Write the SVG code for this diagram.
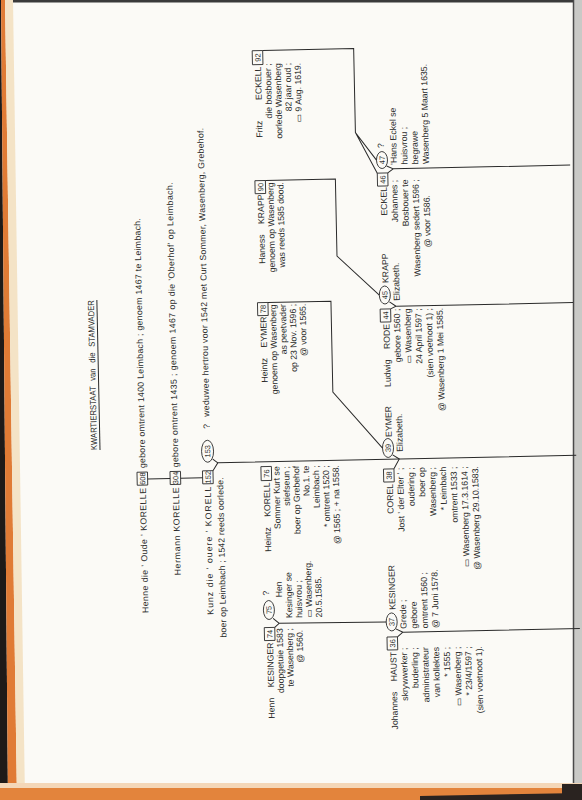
<svg xmlns="http://www.w3.org/2000/svg" width="582" height="800" viewBox="0 0 582 800">
<style>
text{font-family:"Liberation Sans","DejaVu Sans",Arial,sans-serif;font-size:8.7px;fill:#2a2a2a}
.n{word-spacing:8px}
.e{text-anchor:end}
.m{text-anchor:middle;font-size:7.5px}
.b{fill:none;stroke:#2a2a2a;stroke-width:0.9}
.c{fill:none;stroke:#2a2a2a;stroke-width:1}
</style>
<rect width="582" height="800" fill="#fbfaf6"/>
<g id="page-edges">
<polygon points="0,0 1,0 8,800 0,800" fill="#1e1a18"/>
<polygon points="1,0 5,0 17,800 8,800" fill="#e07b35"/>
<polygon points="5,0 13,0 25,800 17,800" fill="#f4e3c6"/>
<rect x="13" y="0" width="569" height="2.5" fill="#3a3a3a"/>
<rect x="574" y="0" width="8" height="800" fill="#c9c9c6"/>
<line x1="573.5" y1="0" x2="573.5" y2="800" stroke="#4a4a4a" stroke-width="1.5"/>
<rect x="0" y="783" width="582" height="5" fill="#f4d7b8"/>
<rect x="0" y="788" width="582" height="12" fill="#e3843c"/>
<polygon points="420,796 582,793 582,800 420,800" fill="#2a2320"/>
<rect x="562" y="784" width="20" height="16" fill="#2a2320"/>
</g>
<g transform="rotate(-1.2 291 400) translate(0 800) rotate(-90)">
<g id="title">
<text x="429" y="96" text-anchor="middle" textLength="150" lengthAdjust="spacingAndGlyphs" style="word-spacing:4px">KWARTIERSTAAT van die STAMVADER</text>
<line x1="354" y1="99" x2="504" y2="99" class="c"/>
</g>
<g id="n608">
<text x="315" y="144" class="e" textLength="125" lengthAdjust="spacing">Henne die ' Oude ' KORELLE</text>
<rect x="318" y="135.5" width="13" height="10.5" class="b"/>
<text x="324.5" y="143.6" class="m">608</text>
<text x="335" y="144" textLength="250" lengthAdjust="spacing">gebore omtrent 1400 Leimbach ; genoem 1467 te Leimbach.</text>
</g>
<g id="n304">
<text x="315" y="177" class="e" textLength="88" lengthAdjust="spacing">Hermann KORELLE</text>
<rect x="318" y="168.5" width="13" height="10.5" class="b"/>
<text x="324.5" y="176.6" class="m">304</text>
<text x="335" y="177" textLength="285" lengthAdjust="spacing">gebore omtrent 1435 ; genoem 1467 op die 'Oberhof' op Leimbach.</text>
</g>
<g id="n152">
<text x="315" y="209" class="e" textLength="128" lengthAdjust="spacing">Kunz die ' ouere ' KORELL</text>
<rect x="318" y="201" width="13" height="10.5" class="b"/>
<text x="324.5" y="209.1" class="m">152</text>
<text x="164" y="221.5" textLength="160" lengthAdjust="spacing">boer op Leimbach ; 1542 reeds oorlede.</text>
</g>
<g id="n153">
<ellipse cx="350.5" cy="206.5" rx="11" ry="6" class="b"/>
<text x="350.5" y="209.2" class="m">153</text>
<text x="373" y="209">?</text>
<text x="385" y="209" textLength="289" lengthAdjust="spacing">weduwee hertrou voor 1542 met Curt Sommer, Wasenberg, Grebehof.</text>
</g>
<g id="n74">
<text x="158" y="268" class="e n">Henn KESINGER</text>
<rect x="160" y="259.5" width="13" height="10.5" class="b"/>
<text x="166.5" y="267.6" class="m">74</text>
<text x="172" y="277.9" class="e">doopgetuie 1583</text>
<text x="172" y="287.8" class="e">te Wasenberg ;</text>
<text x="170" y="297.7" class="e">@ 1560.</text>
</g>
<g id="n75">
<ellipse cx="190.5" cy="264.5" rx="9.5" ry="5.5" class="b"/>
<text x="190.5" y="267.2" class="m">75</text>
<text x="205" y="265">?</text>
<text x="203" y="277.9">Hen</text>
<text x="182" y="287.8">Kesinger se</text>
<text x="182" y="297.7">huisvrou ;</text>
<text x="182" y="307.6">▭ Wasenberg.</text>
<text x="182" y="317.5">20.5.1585.</text>
</g>
<g id="n76">
<text x="318" y="268" class="e n">Heintz KORELL</text>
<rect x="320" y="259.5" width="14" height="10.5" class="b"/>
<text x="327" y="267.6" class="m">76</text>
<text x="334" y="277.9" class="e">Sommer Kurt se</text>
<text x="334" y="287.8" class="e">stiefseun ;</text>
<text x="334" y="297.7" class="e">boer op Grebehof</text>
<text x="334" y="307.6" class="e">No.1. te</text>
<text x="334" y="317.5" class="e">Leimbach ;</text>
<text x="334" y="327.4" class="e">* omtrent 1520 ;</text>
<text x="334" y="337.3" class="e">@ 1565 ; + na 1558.</text>
</g>
<g id="n78">
<text x="484" y="268" class="e n">Heintz EYMER</text>
<rect x="485" y="259.5" width="13" height="10.5" class="b"/>
<text x="491.5" y="267.6" class="m">78</text>
<text x="496" y="277.9" class="e">genoem op Wasenberg</text>
<text x="496" y="287.8" class="e">as peetvader</text>
<text x="496" y="297.7" class="e">op 23 Nov. 1596 ;</text>
<text x="496" y="307.6" class="e">@ voor 1565.</text>
</g>
<g id="n90">
<text x="606" y="268" class="e n">Haness KRAPP</text>
<rect x="607" y="259.5" width="13" height="10.5" class="b"/>
<text x="613.5" y="267.6" class="m">90</text>
<text x="618" y="277.9" class="e">genoem op Wasenberg</text>
<text x="618" y="287.8" class="e">was reeds 1585 dood.</text>
</g>
<g id="n92">
<text x="663" y="268">Fritz</text>
<text x="734" y="268" class="e">ECKELL</text>
<rect x="736" y="259.5" width="14" height="10.5" class="b"/>
<text x="743" y="267.6" class="m">92</text>
<text x="737" y="277.9" class="e">die bosbouer ;</text>
<text x="737" y="287.8" class="e">oorlede Wasenberg</text>
<text x="737" y="297.7" class="e">82 jaar oud ;</text>
<text x="737" y="307.6" class="e">▭ 9 Aug. 1619.</text>
</g>
<g id="n36">
<text x="146" y="391" class="e n">Johannes HAUST</text>
<rect x="148" y="382" width="13" height="10.5" class="b"/>
<text x="154.5" y="390.1" class="m">36</text>
<text x="150" y="401.7" class="e">skrywwerker ;</text>
<text x="150" y="412.4" class="e">buderling ;</text>
<text x="150" y="423.1" class="e">administrateur</text>
<text x="150" y="433.8" class="e">van kollektes</text>
<text x="150" y="444.5" class="e">* 1555 ;</text>
<text x="150" y="455.2" class="e">▭ Wasenberg ;</text>
<text x="150" y="465.9" class="e">* 23/4/1597 ;</text>
<text x="150" y="476.6" class="e">(sien voetnoot 1).</text>
</g>
<g id="n37">
<ellipse cx="176" cy="387" rx="9" ry="5.5" class="b"/>
<text x="176" y="389.7" class="m">37</text>
<text x="188" y="391">KESINGER</text>
<text x="169" y="401.7">Grede ;</text>
<text x="169" y="412.4">gebore</text>
<text x="169" y="423.1">omtrent 1560 ;</text>
<text x="169" y="433.8">@ 7 Juni 1578.</text>
</g>
<g id="n38">
<text x="314" y="391" class="e">COREL</text>
<rect x="316" y="382" width="13" height="10.5" class="b"/>
<text x="322.5" y="390.1" class="m">38</text>
<text x="330" y="401.7" class="e">Jost ' der Elter ' ;</text>
<text x="330" y="412.4" class="e">oudering ;</text>
<text x="330" y="423.1" class="e">boer op</text>
<text x="330" y="433.8" class="e">Wasenberg ;</text>
<text x="330" y="444.5" class="e">* Leimbach</text>
<text x="330" y="455.2" class="e">omtrent 1533 ;</text>
<text x="330" y="465.9" class="e">▭ Wasenberg 17.3.1614 ;</text>
<text x="330" y="476.6" class="e">@ Wasenberg 29.10.1583.</text>
</g>
<g id="n39">
<ellipse cx="350" cy="387" rx="9.5" ry="5.5" class="b"/>
<text x="350" y="389.7" class="m">39</text>
<text x="361" y="391">EYMER</text>
<text x="346" y="401.7">Elizabeth.</text>
</g>
<g id="n44">
<text x="474" y="391" class="e n">Ludwig RODE</text>
<rect x="476" y="382" width="13" height="10.5" class="b"/>
<text x="482.5" y="390.1" class="m">44</text>
<text x="489" y="401.7" class="e">gebore 1560 ;</text>
<text x="489" y="412.4" class="e">▭ Wasenberg</text>
<text x="489" y="423.1" class="e">24 April 1597 ;</text>
<text x="489" y="433.8" class="e">(sien voetnoot 1) ;</text>
<text x="489" y="444.5" class="e">@ Wasenberg 1 Mei 1585.</text>
</g>
<g id="n45">
<ellipse cx="503" cy="387" rx="9" ry="5.5" class="b"/>
<text x="503" y="389.7" class="m">45</text>
<text x="515" y="391">KRAPP</text>
<text x="497" y="401.7">Elizabeth.</text>
</g>
<g id="n46">
<text x="611" y="391" class="e">ECKEL</text>
<rect x="612" y="382" width="13" height="10.5" class="b"/>
<text x="618.5" y="390.1" class="m">46</text>
<text x="618" y="401.7" class="e">Johannes ;</text>
<text x="618" y="412.4" class="e">Bosbouer te</text>
<text x="618" y="423.1" class="e">Wasenberg sedert 1596 ;</text>
<text x="602" y="433.8" class="e">@ voor 1586.</text>
</g>
<g id="n47">
<ellipse cx="638" cy="387" rx="8.5" ry="5.5" class="b"/>
<text x="638" y="389.7" class="m">47</text>
<text x="650" y="389">?</text>
<text x="633" y="401.7">'Hans Eckel se</text>
<text x="633" y="412.4">huisvrou ;</text>
<text x="633" y="423.1">begrawe</text>
<text x="633" y="433.8">Wasenberg 5 Maart 1635.</text>
</g>
<g id="connectors" class="c">
<path d="M324,146 V168.5 M324,179 V201"/>
<path d="M331,211.5 L338.7,216.5 L342.5,211.5 M338.7,216.5 V575"/>
<path d="M329,392.5 L338.7,398 L343,391.5"/>
<path d="M173,270 L177,274.5 L182,268.5 M177,274.5 L176,381.5"/>
<path d="M161,392.5 L165.5,398 L169,391 M165.5,398 V575"/>
<path d="M498,270 V333 H407 L350,381.5"/>
<path d="M620,270 V340 H543 L503,381.5"/>
<path d="M489,392.5 L491.5,398 L496,391.5 M491.5,398 V575"/>
<path d="M750,270 V361 H666 L638,381.5 M666,361 L625,382"/>
<path d="M625,392.5 L629,398 L632,391.5 M629,398 V575"/>
</g>
</g>
</svg>
